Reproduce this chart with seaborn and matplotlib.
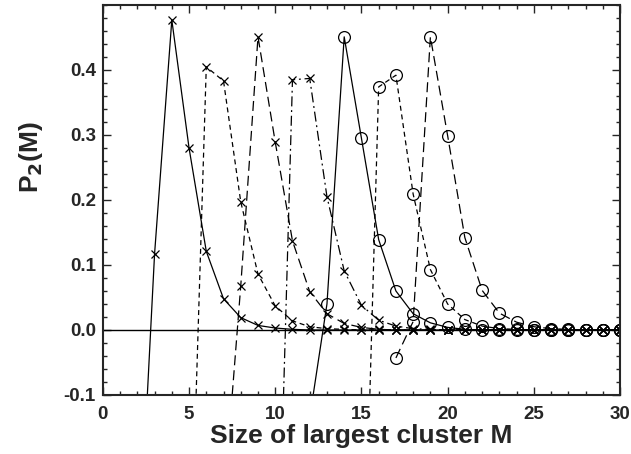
import numpy as np
import matplotlib
matplotlib.use("Agg")
import matplotlib.pyplot as plt
import pandas as pd
import seaborn as sns
from matplotlib.ticker import MultipleLocator

sns.set_style("ticks")
plt.rcParams["font.family"] = ["Liberation Sans", "DejaVu Sans"]
plt.rcParams["font.weight"] = "bold"

# P2(M) curves, each starting at its own M and running to M = 30
m_a = list(range(2, 31))
p_a = [-0.40, 0.117, 0.477, 0.280, 0.121, 0.048, 0.019, 0.007, 0.003, 0.001,
       0.0, 0.0, 0.0, 0.0, 0.0, 0.0, 0.0, 0.0, 0.0, 0.0,
       0.0, 0.0, 0.0, 0.0, 0.0, 0.0, 0.0, 0.0, 0.0]
m_b = list(range(5, 31))
p_b = [-0.45, 0.405, 0.383, 0.197, 0.086, 0.037, 0.014, 0.005, 0.002, 0.001,
       0.0, 0.0, 0.0, 0.0, 0.0, 0.0, 0.0, 0.0, 0.0, 0.0,
       0.0, 0.0, 0.0, 0.0, 0.0, 0.0]
m_c = list(range(7, 31))
p_c = [-0.27, 0.068, 0.451, 0.289, 0.137, 0.059, 0.025, 0.010, 0.004, 0.001,
       0.0, 0.0, 0.0, 0.0, 0.0, 0.0, 0.0, 0.0, 0.0, 0.0,
       0.0, 0.0, 0.0, 0.0]
m_d = list(range(10, 31))
p_d = [-0.55, 0.385, 0.387, 0.205, 0.091, 0.038, 0.015, 0.006, 0.002, 0.001,
       0.0, 0.0, 0.0, 0.0, 0.0, 0.0, 0.0, 0.0, 0.0, 0.0, 0.0]
m_e = list(range(12, 31))
p_e = [-0.135, 0.040, 0.451, 0.295, 0.139, 0.060, 0.025, 0.011, 0.004, 0.001,
       0.0, 0.0, 0.0, 0.0, 0.0, 0.0, 0.0, 0.0, 0.0]
m_f = list(range(15, 31))
p_f = [-0.55, 0.374, 0.392, 0.209, 0.093, 0.040, 0.016, 0.006, 0.002, 0.001,
       0.0, 0.0, 0.0, 0.0, 0.0, 0.0]
m_g = list(range(17, 31))
p_g = [-0.043, 0.013, 0.451, 0.299, 0.142, 0.061, 0.026, 0.012, 0.005, 0.002,
       0.001, 0.0, 0.0, 0.0]

series = [
    (m_a, p_a, "x", "-"),
    (m_b, p_b, "x", (0, (4, 3))),
    (m_c, p_c, "x", (0, (8, 4))),
    (m_d, p_d, "x", (0, (8, 3, 1.5, 3))),
    (m_e, p_e, "o", "-"),
    (m_f, p_f, "o", (0, (4, 3))),
    (m_g, p_g, "o", (0, (8, 4))),
]

fig = plt.figure(figsize=(6.31, 4.54), dpi=100)
ax = fig.add_axes([0.163, 0.130, 0.8196, 0.859])

ax.axhline(0.0, color="black", lw=1.0, zorder=1)

for m, p, mk, ls in series:
    df = pd.DataFrame({"M": m, "P2": p})
    if mk == "o":
        sns.lineplot(data=df, x="M", y="P2", ax=ax, color="black", lw=0.9,
                     linestyle=ls, marker="o", ms=8.5, mfc="none",
                     mec="black", mew=0.9)
    else:
        sns.lineplot(data=df, x="M", y="P2", ax=ax, color="black", lw=0.9,
                     linestyle=ls, marker="x", ms=6, mec="black", mew=0.9)

ax.set_xlim(0, 30)
ax.set_ylim(-0.1, 0.5)
ax.set_xticks([0, 5, 10, 15, 20, 25, 30])
ax.set_yticks([-0.1, 0.0, 0.1, 0.2, 0.3, 0.4])
ax.set_yticklabels(["-0.1", "0.0", "0.1", "0.2", "0.3", "0.4"])
ax.xaxis.set_minor_locator(MultipleLocator(1))
ax.yaxis.set_minor_locator(MultipleLocator(0.02))
ax.tick_params(which="both", direction="in", top=True, right=True, width=1.0)
ax.tick_params(which="major", length=6, labelsize=13.5, pad=5)
ax.tick_params(axis="x", which="major", pad=8)
ax.tick_params(which="minor", length=3)
for lab in ax.get_xticklabels() + ax.get_yticklabels():
    lab.set_fontweight("bold")
for s in ax.spines.values():
    s.set_linewidth(1.5)

ax.set_xlabel("Size of largest cluster M", fontsize=19, fontweight="bold", labelpad=1)
ax.set_ylabel("P$_\\mathbf{2}$(M)", fontsize=19, fontweight="bold")
ax.yaxis.set_label_coords(-0.112, 0.61)

fig.savefig("out.png", dpi=100)
